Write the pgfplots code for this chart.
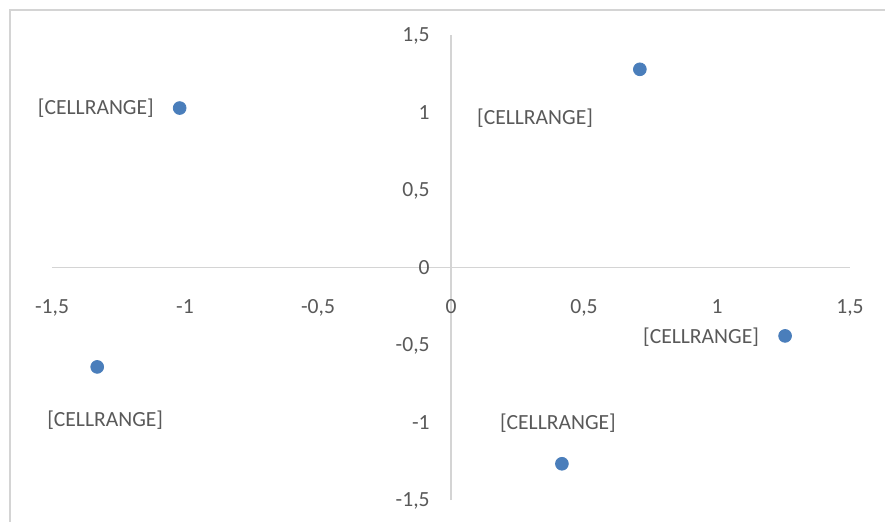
\documentclass[border=0pt]{standalone}
\usepackage{pgfplots}
\pgfplotsset{compat=1.18}
\usepackage{fontspec}
\setmainfont{Carlito}
\definecolor{pt}{HTML}{4A7EBB}
\definecolor{txt}{HTML}{595959}
\definecolor{ax}{HTML}{D4D4D4}
\begin{document}
\begin{tikzpicture}[x=0.5pt,y=0.5pt]
\path[use as bounding box] (-451,-253.3) rectangle (434,267.7);
\draw[ax, line width=1pt] (-441,-260) -- (-441,257.7) -- (440,257.7);
\begin{axis}[
  anchor=origin, at={(0,0)},
  x=133pt, y=77.5pt,
  xmin=-1.5, xmax=1.5, ymin=-1.5, ymax=1.5,
  axis lines=middle,
  axis line style={draw=ax, line width=0.75pt, -},
  major tick length=0pt,
  xtick={-1.5,-1,-0.5,0,0.5,1,1.5},
  ytick={-1.5,-1,-0.5,0,0.5,1,1.5},
  hide obscured x ticks=false,
  hide obscured y ticks=false,
  /pgf/number format/.cd, use comma, assume math mode=true, 1000 sep={},
  /pgfplots/.cd,
  tick label style={font=\fontsize{10.8}{12}\selectfont, text=txt, inner sep=0pt},
  xticklabel style={anchor=base, yshift=-23pt},
  yticklabel style={anchor=base east, xshift=-10.5pt, yshift=-3.3pt},
  clip=false,
]
\addplot[only marks, mark=*, mark size=3.2pt, color=pt, mark options={fill=pt, draw=pt}] coordinates {
  (-1.02,1.03) (0.71,1.28) (-1.33,-0.64) (1.256,-0.44) (0.417,-1.265)
};
\node[font=\fontsize{10.8}{12}\selectfont, text=txt] at (axis cs:-1.335,1.03) {[CELLRANGE]};
\node[font=\fontsize{10.8}{12}\selectfont, text=txt] at (axis cs:0.316,0.966) {[CELLRANGE]};
\node[font=\fontsize{10.8}{12}\selectfont, text=txt] at (axis cs:-1.30,-0.983) {[CELLRANGE]};
\node[font=\fontsize{10.8}{12}\selectfont, text=txt] at (axis cs:0.94,-0.447) {[CELLRANGE]};
\node[font=\fontsize{10.8}{12}\selectfont, text=txt] at (axis cs:0.402,-1.0) {[CELLRANGE]};
\end{axis}
\end{tikzpicture}
\end{document}
